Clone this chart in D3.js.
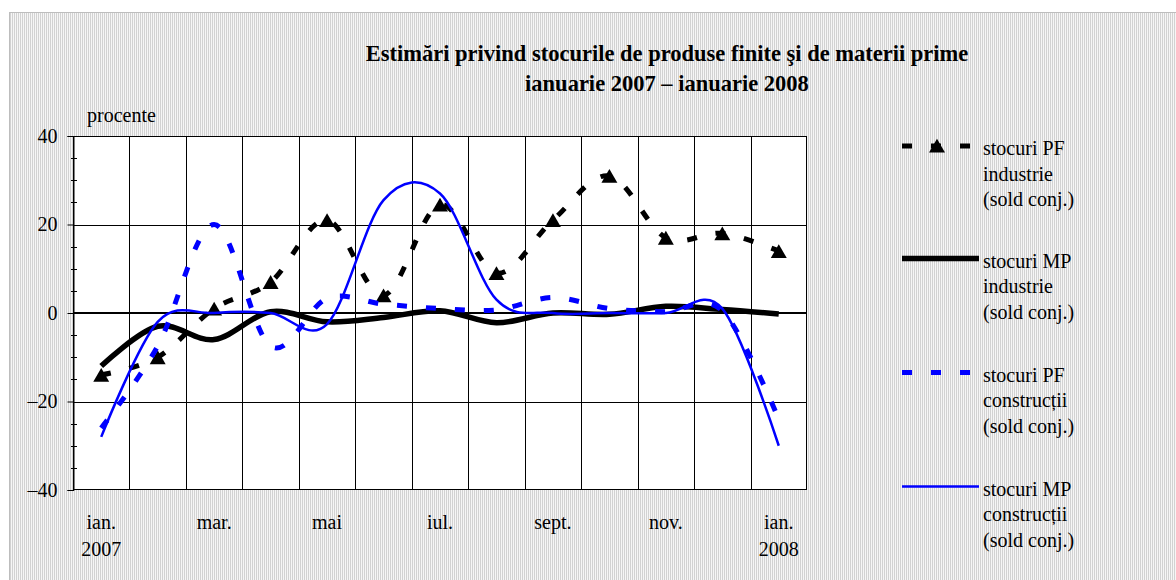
<!DOCTYPE html>
<html>
<head>
<meta charset="utf-8">
<script src="https://cdn.jsdelivr.net/npm/d3@7"></script>
<style>
  body { margin: 0; background: #fff; }
  text { font-family: "Liberation Serif", "Times New Roman", serif; fill: #000; }
</style>
</head>
<body>
<svg id="chart" width="1176" height="580"></svg>
<script>
// ---- data ----
var months = ["ian.", "feb.", "mar.", "apr.", "mai", "iun.", "iul.", "aug.", "sept.", "oct.", "nov.", "dec.", "ian."];
var monthLabels = ["ian.", "", "mar.", "", "mai", "", "iul.", "", "sept.", "", "nov.", "", "ian."];
var yearLabels = ["2007", "", "", "", "", "", "", "", "", "", "", "", "2008"];

var pfIndustrie   = [-14, -10, 1, 7, 21, 4, 24.5, 9, 21, 31, 17, 18, 14];
var mpIndustrie   = [-12, -3, -6, 0.3, -2, -1, 0.5, -2.2, 0, -0.3, 1.5, 0.8, -0.2];
var pfConstructii = [-26, -7.5, 20, -7.5, 3.3, 2, 1, 0.7, 3.5, 1, 0.3, 0.5, -24];
var mpConstructii = [-28, -2, 0, 0, -2.5, 25.5, 27, 3, 0, 0, 0, 1, -30];

var yTicks = [-40, -20, 0, 20, 40];
var titleLines = ["Estimări privind stocurile de produse finite şi de materii prime", "ianuarie 2007 – ianuarie 2008"];

var svg = d3.select("#chart");

// dotted chart-area background
var defs = svg.append("defs");
var pat = defs.append("pattern").attr("id", "dots")
  .attr("width", 2).attr("height", 2).attr("patternUnits", "userSpaceOnUse");
pat.append("rect").attr("width", 2).attr("height", 2).attr("fill", "#f6f6f6");
pat.append("rect").attr("width", 1).attr("height", 2).attr("fill", "#d2d2d2");

svg.append("rect")
  .attr("x", 9.5).attr("y", 12.5)
  .attr("width", 1200).attr("height", 600)
  .attr("fill", "url(#dots)")
  .attr("stroke", "#bdbdbd");

// plot area
var plot = {left: 73, right: 807, top: 136, bottom: 490};

var x = d3.scaleBand().domain(d3.range(months.length)).range([plot.left, plot.right]);
var y = d3.scaleLinear().domain([-40, 40]).range([plot.bottom, plot.top]);
var cx = function(i) { return x(i) + x.bandwidth() / 2; };

svg.append("rect")
  .attr("x", plot.left).attr("y", plot.top)
  .attr("width", plot.right - plot.left).attr("height", plot.bottom - plot.top)
  .attr("fill", "#fff");

// vertical gridlines at category boundaries
svg.append("g").selectAll("line")
  .data(d3.range(1, months.length))
  .enter().append("line")
  .attr("x1", function(d) { return Math.round(x(d)) + 0.5; })
  .attr("x2", function(d) { return Math.round(x(d)) + 0.5; })
  .attr("y1", plot.top).attr("y2", plot.bottom)
  .attr("stroke", "#000").attr("stroke-width", 1);

// horizontal gridlines
svg.append("g").selectAll("line")
  .data([-20, 20])
  .enter().append("line")
  .attr("x1", plot.left).attr("x2", plot.right)
  .attr("y1", function(d) { return Math.round(y(d)) + 0.5; })
  .attr("y2", function(d) { return Math.round(y(d)) + 0.5; })
  .attr("stroke", "#000").attr("stroke-width", 1);

svg.append("line")
  .attr("x1", plot.left).attr("x2", plot.right)
  .attr("y1", y(0)).attr("y2", y(0))
  .attr("stroke", "#000").attr("stroke-width", 2);

svg.append("rect")
  .attr("x", plot.left + 0.5).attr("y", plot.top + 0.5)
  .attr("width", plot.right - plot.left - 1).attr("height", plot.bottom - plot.top - 1)
  .attr("fill", "none").attr("stroke", "#000").attr("stroke-width", 1);

// y axis
var yAxis = d3.axisLeft(y)
  .tickValues(yTicks)
  .tickSize(6)
  .tickPadding(10)
  .tickFormat(function(d) { return d < 0 ? "\u2013" + Math.abs(d) : d; });

var gy = svg.append("g")
  .attr("transform", "translate(" + (plot.left + 0.5) + ",0)")
  .call(yAxis);
gy.select(".domain").attr("stroke", "#000");
gy.selectAll(".tick line").attr("stroke", "#000");
gy.selectAll(".tick text")
  .style("font-family", "'Liberation Serif', serif")
  .style("font-size", "20px")
  .attr("fill", "#000");

// minor ticks, every 5
var minor = d3.range(-35, 40, 5).filter(function(d) { return d % 20 !== 0; });
svg.append("g").selectAll("line")
  .data(minor)
  .enter().append("line")
  .attr("x1", plot.left - 2).attr("x2", plot.left + 4)
  .attr("y1", function(d) { return Math.round(y(d)) + 0.5; })
  .attr("y2", function(d) { return Math.round(y(d)) + 0.5; })
  .attr("stroke", "#000");

// x labels
svg.append("g").selectAll("text")
  .data(monthLabels)
  .enter().append("text")
  .attr("x", function(d, i) { return cx(i); })
  .attr("y", 529)
  .attr("text-anchor", "middle")
  .style("font-size", "20px")
  .text(function(d) { return d; });

svg.append("g").selectAll("text")
  .data(yearLabels)
  .enter().append("text")
  .attr("x", function(d, i) { return cx(i); })
  .attr("y", 556)
  .attr("text-anchor", "middle")
  .style("font-size", "20px")
  .text(function(d) { return d; });

svg.append("text")
  .attr("x", 87).attr("y", 122)
  .style("font-size", "20px")
  .text("procente");

// title
svg.append("g").selectAll("text")
  .data(titleLines)
  .enter().append("text")
  .attr("x", 667).attr("y", function(d, i) { return 61 + i * 30; })
  .attr("text-anchor", "middle")
  .style("font-size", "22.5px")
  .style("font-weight", "bold")
  .text(function(d) { return d; });

// series
var line = d3.line()
  .x(function(d, i) { return cx(i); })
  .y(function(d) { return y(d); })
  .curve(d3.curveCardinal.tension(0));

var series = [
  {name: "pfInd", values: pfIndustrie, color: "#000", width: 5, dash: "10,19"},
  {name: "mpInd", values: mpIndustrie, color: "#000", width: 5.5, dash: null},
  {name: "pfCon", values: pfConstructii, color: "#0000ff", width: 5, dash: "10,19"},
  {name: "mpCon", values: mpConstructii, color: "#0000ff", width: 2.5, dash: null}
];

var lines = svg.append("g");
series.forEach(function(s) {
  lines.append("path")
    .datum(s.values)
    .attr("d", line)
    .attr("fill", "none")
    .attr("stroke", s.color)
    .attr("stroke-width", s.width)
    .attr("stroke-dasharray", s.dash);
  if (s.name === "pfInd") {
    // triangle markers drawn right after their line
    var tri = d3.symbol().type(d3.symbolTriangle).size(110);
    var h = Math.sqrt(110 / (Math.sqrt(3) / 4)) * Math.sqrt(3) / 2;
    lines.append("g").selectAll("path")
      .data(s.values)
      .enter().append("path")
      .attr("d", tri)
      .attr("transform", function(d, i) { return "translate(" + cx(i) + "," + (y(d) + h / 6) + ")"; })
      .attr("fill", "#000");
  }
});

// legend
var legendNames = [
  ["stocuri PF", "industrie", "(sold conj.)"],
  ["stocuri MP", "industrie", "(sold conj.)"],
  ["stocuri PF", "construcții", "(sold conj.)"],
  ["stocuri MP", "construcții", "(sold conj.)"]
];
var legendY = [146, 258.5, 372.5, 486.5];
var legendX2 = [970, 979, 970, 979];

var leg = svg.append("g");
series.forEach(function(s, k) {
  var g = leg.append("g");
  g.append("line")
    .attr("x1", 902).attr("x2", legendX2[k])
    .attr("y1", legendY[k]).attr("y2", legendY[k])
    .attr("stroke", s.color)
    .attr("stroke-width", s.width)
    .attr("stroke-dasharray", s.dash);
  if (s.name === "pfInd") {
    g.append("path")
      .attr("d", d3.symbol().type(d3.symbolTriangle).size(110))
      .attr("transform", "translate(937," + (legendY[k] + 2) + ")")
      .attr("fill", "#000");
  }
  g.selectAll("text")
    .data(legendNames[k])
    .enter().append("text")
    .attr("x", 983)
    .attr("y", function(d, i) { return legendY[k] + 9 + i * 25.5; })
    .style("font-size", "20px")
    .text(function(d) { return d; });
});
</script>
</body>
</html>
